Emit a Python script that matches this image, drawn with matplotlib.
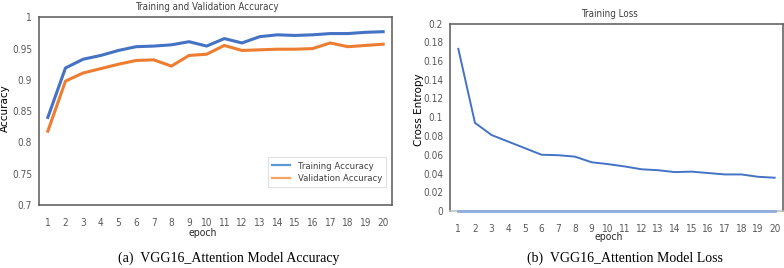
import matplotlib
matplotlib.use("Agg")
import matplotlib.pyplot as plt
from matplotlib import font_manager
from matplotlib.font_manager import FontProperties

# data
epochs = list(range(1, 21))
train_acc = [0.840, 0.919, 0.933, 0.939, 0.947, 0.953, 0.954, 0.956, 0.961, 0.954,
             0.966, 0.959, 0.969, 0.972, 0.971, 0.972, 0.974, 0.974, 0.976, 0.977]
val_acc = [0.818, 0.898, 0.911, 0.918, 0.925, 0.931, 0.932, 0.922, 0.939, 0.941,
           0.955, 0.947, 0.948, 0.949, 0.949, 0.950, 0.959, 0.953, 0.955, 0.957]
train_loss = [0.173, 0.094, 0.081, 0.074, 0.067, 0.060, 0.0595, 0.058, 0.052, 0.050,
              0.0475, 0.0445, 0.0435, 0.0415, 0.042, 0.0405, 0.039, 0.039, 0.0365, 0.0355]
zero_loss = [0.0] * 20

acc_ticks = [0.7, 0.75, 0.8, 0.85, 0.9, 0.95, 1]
loss_ticks = [0, 0.02, 0.04, 0.06, 0.08, 0.1, 0.12, 0.14, 0.16, 0.18, 0.2]

# look for a narrow sans (chart was made in Excel with a condensed look)
narrow_path = None
for f in font_manager.fontManager.ttflist:
    fn = f.fname.lower()
    if "narrow" in fn and "liberation" in fn and "bold" not in fn and "italic" not in fn:
        narrow_path = f.fname
        break
if narrow_path is None:
    for f in font_manager.fontManager.ttflist:
        fn = f.fname.lower()
        if "dejavusanscondensed.ttf" in fn:
            narrow_path = f.fname
            break


def nfont(size):
    if narrow_path:
        return FontProperties(fname=narrow_path, size=size)
    return FontProperties(family="Liberation Sans", size=size * 0.92)


W, H = 784, 268
fig = plt.figure(figsize=(W / 100, H / 100), dpi=100)


def box(l, t, r, b):
    return [l / W, 1 - b / H, (r - l) / W, (b - t) / H]


def style(ax, yticks):
    ax.set_xlim(0.5, 20.5)
    ax.set_xticks(epochs)
    ax.set_xticklabels([str(e) for e in epochs])
    ax.set_yticks(yticks)
    ax.set_yticklabels(["%g" % v for v in yticks])
    for t in ax.get_xticklabels() + ax.get_yticklabels():
        t.set_fontproperties(nfont(7.2))
        t.set_color("#595959")
    ax.tick_params(axis="x", length=0, pad=9)
    ax.tick_params(axis="y", length=0, pad=5)
    for s in ax.spines.values():
        s.set_color("#595959")
        s.set_linewidth(1.1)


# (a) accuracy
ax1 = fig.add_axes(box(39, 17.3, 392, 205))
ax1.plot(epochs, train_acc, color="#4472C4", lw=2.2, label="Training Accuracy")
ax1.plot(epochs, val_acc, color="#ED7D31", lw=2.2, label="Validation Accuracy")
ax1.set_ylim(0.7, 1.0)
style(ax1, acc_ticks)
leg = ax1.legend(loc="lower right", prop=nfont(6.8),
                 frameon=True, fancybox=False, borderpad=0.45, handlelength=1.9,
                 handletextpad=0.8, labelspacing=0.35, bbox_to_anchor=(0.997, 0.07))
leg.get_frame().set_edgecolor("#d9d9d9")
leg.get_frame().set_linewidth(0.8)
for t in leg.get_texts():
    t.set_color("#404040")
for h, c in zip(leg.get_lines(), ["#5B9BD5", "#F4A460"]):
    h.set_color(c)
    h.set_linewidth(1.6)
fig.text(207 / W, 1 - 7 / H, "Training and Validation Accuracy", fontproperties=nfont(7),
         ha="center", va="center", color="#404040")
fig.text(5 / W, 1 - 108 / H, "Accuracy", rotation=90, fontsize=7.5,
         ha="center", va="center")
fig.text(203 / W, 1 - 233 / H, "epoch", fontproperties=nfont(7.5),
         ha="center", va="center", color="#262626")
fig.text(229 / W, 1 - 258 / H, "(a)  VGG16_Attention Model Accuracy",
         family="Liberation Serif", fontsize=10, ha="center", va="center")

# (b) loss
ax2 = fig.add_axes(box(450, 23.5, 783, 211))
ax2.plot(epochs, train_loss, color="#4472C4", lw=1.4)
ax2.plot(epochs, zero_loss, color="#8FAADC", lw=2.0, clip_on=False, zorder=5)
ax2.set_ylim(0, 0.2)
style(ax2, loss_ticks)
ax2.spines["bottom"].set_color("#bfbfbf")
fig.text(609 / W, 1 - 14 / H, "Training Loss", fontproperties=nfont(7),
         ha="center", va="center", color="#404040")
fig.text(419 / W, 1 - 110 / H, "Cross Entropy", rotation=90, fontsize=7.5,
         ha="center", va="center")
fig.text(609 / W, 1 - 237 / H, "epoch", fontproperties=nfont(7.5),
         ha="center", va="center", color="#262626")
fig.text(625 / W, 1 - 258 / H, "(b)  VGG16_Attention Model Loss",
         family="Liberation Serif", fontsize=10, ha="center", va="center")

fig.savefig("out.png", dpi=100)
